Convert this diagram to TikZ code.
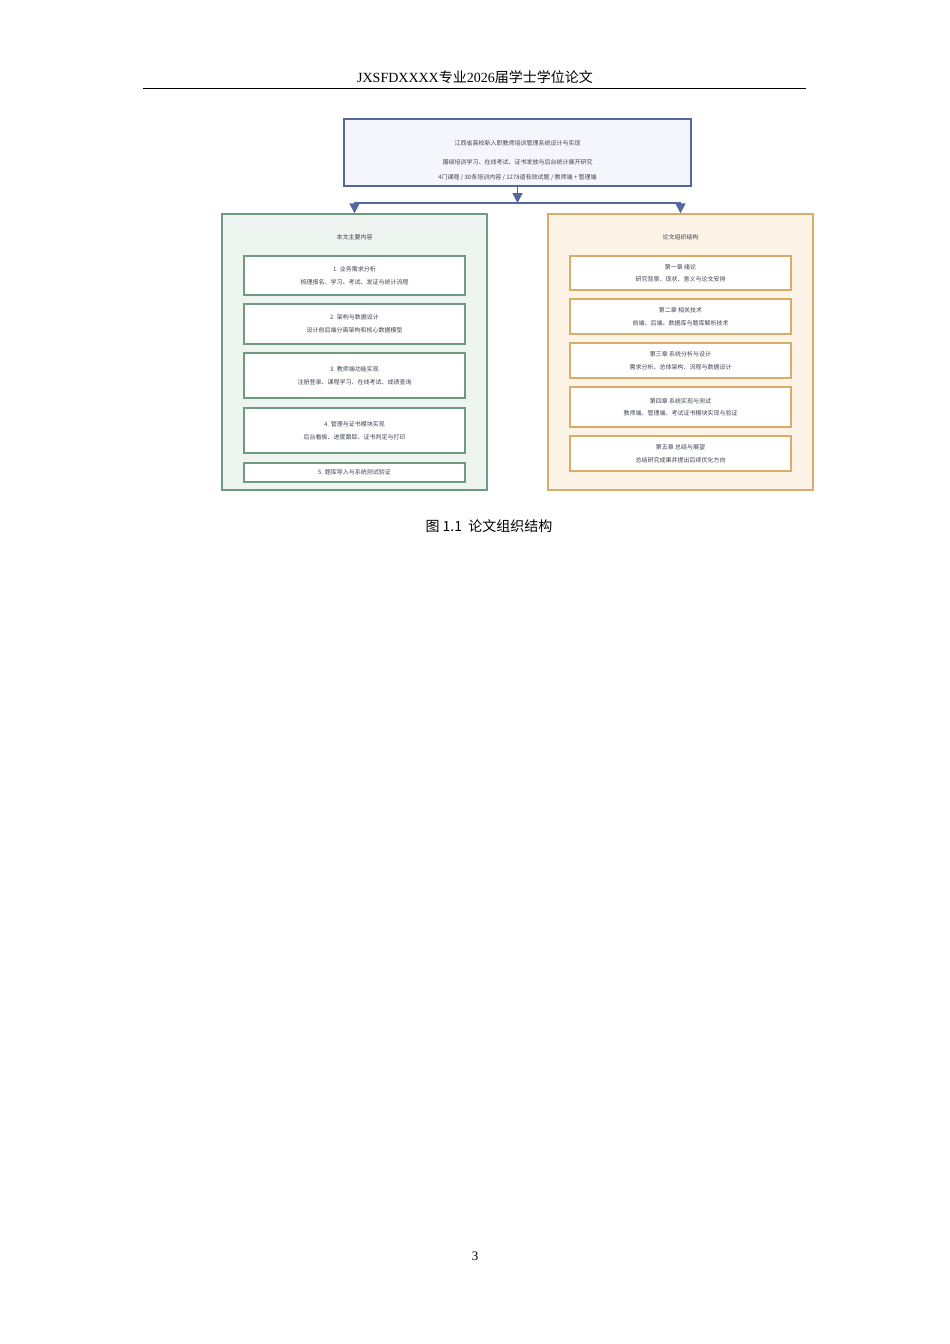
\documentclass[tikz,border=0pt]{standalone}
\usepackage{fontspec}
\setmainfont{Liberation Serif}
\newfontfamily\cjk{Noto Sans CJK SC}
\usetikzlibrary{arrows.meta}
\definecolor{topblue}{HTML}{5468A0}
\definecolor{topfill}{HTML}{F5F5FC}
\definecolor{grnline}{HTML}{6E9A80}
\definecolor{grnfill}{HTML}{EEF4EF}
\definecolor{orgline}{HTML}{D9AC68}
\definecolor{orgfill}{HTML}{FDF3E6}
\definecolor{txtgray}{HTML}{3F4450}
\tikzset{
  frame/.style={draw, line width=1.3pt, inner sep=0pt},
  item/.style={frame, fill=white, line width=1.2pt},
  tiny/.style={font=\cjk\fontsize{6}{7}\selectfont, text=txtgray, inner sep=0pt},
  link/.style={topblue, line width=1.6pt},
  tip/.style={link, -{Triangle[width=10pt,length=10pt]}}
}
\begin{document}
\begin{tikzpicture}[x=1pt,y=-1pt]
			\useasboundingbox (0,0) rectangle (950,1344);
			\fill [white] (0,0) rectangle (950,1344);
			% header
			\node (head) at (475,77) {\fontsize{14}{16}\selectfont JXSFDXXXX{\cjk 专业}2026{\cjk 届学士学位论文}};
			\draw [line width=0.8pt] (143,88) -- (806,88);
			% top box
			\node [frame, draw=topblue, fill=topfill, minimum width=347pt, minimum height=67pt] (top) at (517.5,152.5) {};
			\node [tiny] (t1) at (517.5,143) {江西省高校新入职教师培训管理系统设计与实现};
			\node [tiny] (t2) at (517.5,162) {围绕培训学习、在线考试、证书发放与后台统计展开研究};
			\node [tiny] (t3) at (517.5,177) {4门课程 / 30条培训内容 / 1278道有效试题 / 教师端 + 管理端};
			% left column
			\node [frame, draw=grnline, fill=grnfill, minimum width=265pt, minimum height=276pt] (left) at (354.5,352) {};
			\node [tiny] (lt) at (354.5,237) {本文主要内容};
			\foreach \y/\h/\a/\b [count=\i] in {275.5/39/1. 业务需求分析/梳理报名、学习、考试、发证与统计流程,
			    324/40/2. 架构与数据设计/设计前后端分离架构和核心数据模型,
			    375.5/45/3. 教师端功能实现/注册登录、课程学习、在线考试、成绩查询,
			    430.5/45/4. 管理与证书模块实现/后台看板、进度跟踪、证书判定与打印}{
				\node [item, draw=grnline, minimum width=221pt, minimum height=\h pt] (l\i) at (354.5,\y) {};
				\node [tiny] at (354.5,\y-6.5) {\a};
				\node [tiny] at (354.5,\y+6.5) {\b};
			}
			\node [item, draw=grnline, minimum width=221pt, minimum height=19pt] (l5) at (354.5,472.5) {};
			\node [tiny] at (354.5,472.5) {5. 题库导入与系统测试验证};
			% right column
			\node [frame, draw=orgline, fill=orgfill, minimum width=265pt, minimum height=276pt] (right) at (680.5,352) {};
			\node [tiny] (rt) at (680.5,237) {论文组织结构};
			\foreach \y/\h/\a/\b [count=\i] in {273/34/第一章 绪论/研究背景、现状、意义与论文安排,
			    316.5/35/第二章 相关技术/前端、后端、数据库与题库解析技术,
			    360.5/35/第三章 系统分析与设计/需求分析、总体架构、流程与数据设计,
			    407/40/第四章 系统实现与测试/教师端、管理端、考试证书模块实现与验证,
			    453.5/35/第五章 总结与展望/总结研究成果并提出后续优化方向}{
				\node [item, draw=orgline, minimum width=221pt, minimum height=\h pt] (r\i) at (680.5,\y) {};
				\node [tiny] at (680.5,\y-6) {\a};
				\node [tiny] at (680.5,\y+6.5) {\b};
			}
			% connectors
			\coordinate (fork) at (517.5,203);
			\draw [tip] (top.south) -- (fork);
			\draw [link] (fork) -| ([yshift=8pt]left.north);
			\draw [link] (fork) -| ([yshift=8pt]right.north);
			\draw [tip] ([yshift=11pt]left.north) -- (left.north);
			\draw [tip] ([yshift=11pt]right.north) -- (right.north);
			% caption and page number
			\node (cap) at (489,526) {\cjk\fontsize{14}{16}\selectfont 图 1.1\ \ 论文组织结构};
			\node (page) at (475,1256) {\fontsize{13}{15}\selectfont 3};
\end{tikzpicture}
\end{document}
